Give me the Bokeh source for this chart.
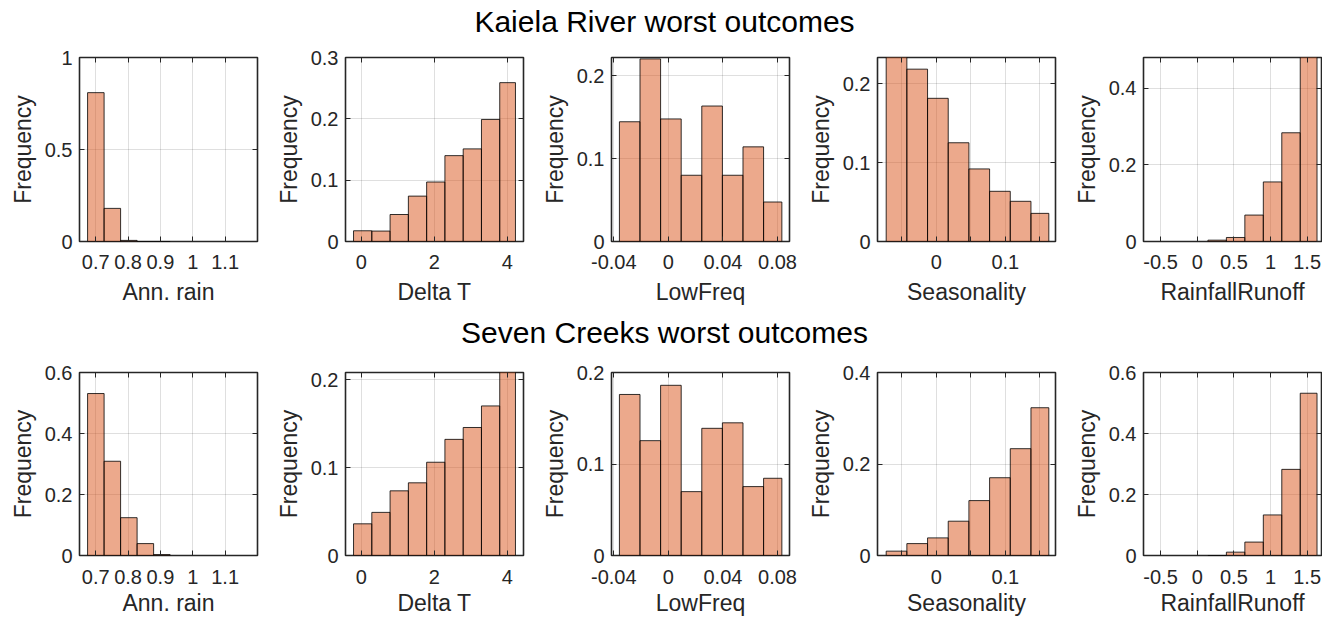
from bokeh.plotting import figure
from bokeh.layouts import column, row
from bokeh.models import ColumnDataSource, FixedTicker, Label, Range1d, LinearAxis
from bokeh.embed import file_html
from bokeh.resources import INLINE

# ---------------- data ----------------
row_titles = ["Kaiela River worst outcomes", "Seven Creeks worst outcomes"]
var_labels = ["Ann. rain", "Delta T", "LowFreq", "Seasonality", "RainfallRunoff"]

# bin edges per variable
annrain_edges = [0.675, 0.726, 0.777, 0.828, 0.879, 0.93]
deltat_edges = [-0.21, 0.29, 0.79, 1.29, 1.79, 2.29, 2.79, 3.29, 3.79, 4.22]
lowfreq_edges = [-0.0359, -0.0208, -0.0057, 0.0094, 0.0245, 0.0396, 0.0547, 0.0698, 0.0832]
season_edges = [-0.0728, -0.0428, -0.0128, 0.0172, 0.0472, 0.0772, 0.1072, 0.1372, 0.1631]
rr_edges = [0.146, 0.398, 0.650, 0.902, 1.154, 1.406, 1.635]

# Kaiela River frequencies
kaiela_annrain = [0.809, 0.180, 0.006, 0.0, 0.0]
kaiela_deltat = [0.0175, 0.0170, 0.044, 0.074, 0.097, 0.140, 0.151, 0.199, 0.259]
kaiela_lowfreq = [0.1446, 0.2205, 0.148, 0.080, 0.1636, 0.080, 0.1143, 0.0477]
kaiela_season = [0.240, 0.2187, 0.1817, 0.1253, 0.0921, 0.0637, 0.051, 0.0357]
kaiela_rr = [0.0035, 0.0105, 0.069, 0.1555, 0.2838, 0.49]

# Seven Creeks frequencies
seven_annrain = [0.531, 0.309, 0.124, 0.039, 0.003]
seven_deltat = [0.036, 0.049, 0.0735, 0.0826, 0.106, 0.132, 0.1455, 0.170, 0.215]
seven_lowfreq = [0.176, 0.1255, 0.186, 0.0698, 0.139, 0.145, 0.0753, 0.0844]
seven_season = [0.0095, 0.026, 0.0385, 0.075, 0.120, 0.170, 0.2335, 0.323]
seven_rr = [0.0, 0.011, 0.044, 0.133, 0.2824, 0.532]

# axis limits and ticks
x_limits = [(0.65, 1.2), (-0.43, 4.44), (-0.0417, 0.0888), (-0.0854, 0.1728), (-0.733, 1.696)]
x_ticks = [[0.7, 0.8, 0.9, 1.0, 1.1], [0, 2, 4], [-0.04, 0, 0.04, 0.08],
           [-0.05, 0, 0.05, 0.1, 0.15], [-0.5, 0, 0.5, 1, 1.5]]
x_tick_labels = [["0.7", "0.8", "0.9", "1", "1.1"], ["0", "2", "4"], ["-0.04", "0", "0.04", "0.08"],
                 ["", "0", "", "0.1", ""], ["-0.5", "0", "0.5", "1", "1.5"]]

kaiela_ylim = [1.0, 0.3, 0.2222, 0.2335, 0.4803]
kaiela_yticks = [[0, 0.5, 1], [0, 0.1, 0.2, 0.3], [0, 0.1, 0.2], [0, 0.1, 0.2], [0, 0.2, 0.4]]
kaiela_ytick_labels = [["0", "0.5", "1"], ["0", "0.1", "0.2", "0.3"], ["0", "0.1", "0.2"],
                       ["0", "0.1", "0.2"], ["0", "0.2", "0.4"]]
seven_ylim = [0.6, 0.208, 0.2, 0.4, 0.6]
seven_yticks = [[0, 0.2, 0.4, 0.6], [0, 0.1, 0.2], [0, 0.1, 0.2], [0, 0.2, 0.4], [0, 0.2, 0.4, 0.6]]
seven_ytick_labels = [["0", "0.2", "0.4", "0.6"], ["0", "0.1", "0.2"], ["0", "0.1", "0.2"],
                      ["0", "0.2", "0.4"], ["0", "0.2", "0.4", "0.6"]]

all_edges = [annrain_edges, deltat_edges, lowfreq_edges, season_edges, rr_edges]
kaiela_vals = [kaiela_annrain, kaiela_deltat, kaiela_lowfreq, kaiela_season, kaiela_rr]
seven_vals = [seven_annrain, seven_deltat, seven_lowfreq, seven_season, seven_rr]

# ---------------- styling ----------------
FONT = "Liberation Sans"
TXT = "#262626"
BAR_FILL = "#D95319"
COL_W = 266
LAST_W = 258
PAGE_W = 4 * COL_W + LAST_W
BORDER_L = 79
FRAME_W = 178


def style_axis(ax):
    ax.axis_line_color = None
    ax.major_tick_in = 5
    ax.major_tick_out = 0
    ax.major_tick_line_color = TXT
    ax.minor_tick_line_color = None
    ax.major_label_text_font = FONT
    ax.major_label_text_font_size = "20px"
    ax.major_label_text_color = TXT
    ax.axis_label_text_font = FONT
    ax.axis_label_text_font_size = "23px"
    ax.axis_label_text_font_style = "normal"
    ax.axis_label_text_color = TXT


def panel(edges, vals, xlim, xt, xtl, ylim, yt, ytl, xlabel, col, top_border, frame_h, bottom_border,
          lab_standoff, axlab_standoff):
    w = COL_W if col < 4 else LAST_W
    h = top_border + frame_h + bottom_border
    p = figure(width=w, height=h, toolbar_location=None, output_backend="svg",
               x_range=Range1d(*xlim), y_range=Range1d(0, ylim),
               min_border_left=BORDER_L, min_border_right=w - BORDER_L - FRAME_W,
               min_border_top=top_border, min_border_bottom=bottom_border)
    n = len(vals)
    src = ColumnDataSource(dict(left=edges[:n], right=edges[1:n + 1], top=vals, bottom=[0] * n))
    p.quad(left="left", right="right", top="top", bottom="bottom", source=src,
           fill_color=BAR_FILL, fill_alpha=0.5, line_color="black", line_alpha=0.8, line_width=1)
    p.xaxis.ticker = FixedTicker(ticks=xt)
    p.xaxis.major_label_overrides = {t: l for t, l in zip(xt, xtl)}
    p.yaxis.ticker = FixedTicker(ticks=yt)
    p.yaxis.major_label_overrides = {t: l for t, l in zip(yt, ytl)}
    p.xaxis.axis_label = xlabel
    p.yaxis.axis_label = "Frequency"
    for ax in (p.xaxis, p.yaxis):
        style_axis(ax)
    p.xaxis.major_label_standoff = lab_standoff
    p.xaxis.axis_label_standoff = axlab_standoff
    p.yaxis.major_label_standoff = 7
    p.yaxis.axis_label_standoff = 6
    # mirrored ticks (box on)
    top_ax = LinearAxis(ticker=FixedTicker(ticks=xt), major_label_text_font_size="0px",
                        major_label_standoff=0)
    right_ax = LinearAxis(ticker=FixedTicker(ticks=yt), major_label_text_font_size="0px",
                          major_label_standoff=0)
    for ax in (top_ax, right_ax):
        ax.axis_line_color = None
        ax.major_tick_in = 5
        ax.major_tick_out = 0
        ax.major_tick_line_color = TXT
        ax.minor_tick_line_color = None
        ax.major_label_overrides = {t: "" for t in (xt if ax is top_ax else yt)}
    p.add_layout(top_ax, "above")
    p.add_layout(right_ax, "right")
    p.grid.grid_line_color = TXT
    p.grid.grid_line_alpha = 0.15
    p.outline_line_color = TXT
    p.outline_line_width = 1.6
    p.outline_line_alpha = 1
    p.background_fill_color = "white"
    return p


def title_fig(text, h, baseline_from_bottom):
    f = figure(width=PAGE_W, height=h, toolbar_location=None, output_backend="svg",
               x_range=Range1d(0, PAGE_W), y_range=Range1d(0, h),
               min_border=0, x_axis_location=None, y_axis_location=None)
    f.outline_line_color = None
    f.grid.visible = False
    f.add_layout(Label(x=664, y=baseline_from_bottom, text=text, text_align="center",
                       text_baseline="alphabetic", text_font=FONT, text_font_size="30px",
                       text_color="black"))
    return f


t1 = title_fig(row_titles[0], 47, 26)
row1 = row(*[panel(all_edges[i], kaiela_vals[i], x_limits[i], x_ticks[i], x_tick_labels[i],
                   kaiela_ylim[i], kaiela_yticks[i], kaiela_ytick_labels[i], var_labels[i], i,
                   10, 184, 68, 13, 7) for i in range(5)])
t2 = title_fig(row_titles[1], 53, 30)
row2 = row(*[panel(all_edges[i], seven_vals[i], x_limits[i], x_ticks[i], x_tick_labels[i],
                   seven_ylim[i], seven_yticks[i], seven_ytick_labels[i], var_labels[i], i,
                   10, 183, 65, 14, 3) for i in range(5)])

page = column(t1, row1, t2, row2)
open("out.html", "w").write(file_html(page, INLINE))
